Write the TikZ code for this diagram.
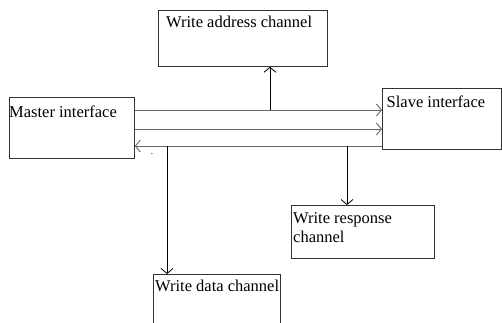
\documentclass[tikz,border=0pt]{standalone}
\usepackage{fontspec}
\setmainfont{Liberation Serif}
\usetikzlibrary{arrows.meta}

\begin{document}
\begin{tikzpicture}[x=1pt,y=-1pt,
  box/.style={draw=black!80,line width=0.8pt,rectangle,inner sep=0pt,anchor=north west},
  boxtext/.style={anchor=north west,inner sep=0pt,align=left,font=\fontsize{16.5}{19}\selectfont},
  bus/.style={draw=black!60,line width=0.9pt},
  drop/.style={draw=black,line width=0.8pt},
  tip/.style={-{Straight Barb[length=5pt,width=12pt]}}]
\useasboundingbox (0,0) rectangle (502,322);
\clip (0,0) rectangle (502,322);
% boxes
\node[box,minimum width=125pt,minimum height=61pt] (master) at (9,97) {};
\node[box,minimum width=119pt,minimum height=61pt] (slave) at (382,88) {};
\node[box,minimum width=169pt,minimum height=56pt] (addr) at (158,10) {};
\node[box,minimum width=143pt,minimum height=53pt] (resp) at (291,205) {};
\node[box,minimum width=127pt,minimum height=60pt] (data) at (153,274) {};
\node[boxtext,xshift=0pt,yshift=-8.7pt] at (master.north west) {Master interface};
\node[boxtext,xshift=4.5pt,yshift=-7.3pt] at (slave.north west) {Slave interface};
\node[boxtext,xshift=8pt,yshift=-6.2pt] at (addr.north west) {Write address channel};
\node[boxtext,xshift=2pt,yshift=-7.7pt] at (resp.north west) {Write response\\channel};
\node[boxtext,xshift=2pt,yshift=-5.7pt] at (data.north west) {Write data channel};
\node[inner sep=0pt,font=\fontsize{11}{11}\selectfont,text=black!75] (dot) at (152,154) {.};
% branch points on the bus
\coordinate (wa) at (270,110);
\coordinate (wd) at (167,146);
\coordinate (wr) at (347,146);
% bus lines
\draw[bus,tip] (master.east |- wa) -- (slave.west |- wa);
\draw[bus,tip] (master.east |- 0,129) -- (slave.west |- 0,129);
\draw[bus,tip] (slave.west |- wd) -- (master.east |- wd);
% channels
\draw[drop,tip] (wa) -- (wa |- addr.south);
\draw[drop,tip] (wd) -- (wd |- data.north);
\draw[drop,tip] (wr) -- (wr |- resp.north);
\end{tikzpicture}
\end{document}
